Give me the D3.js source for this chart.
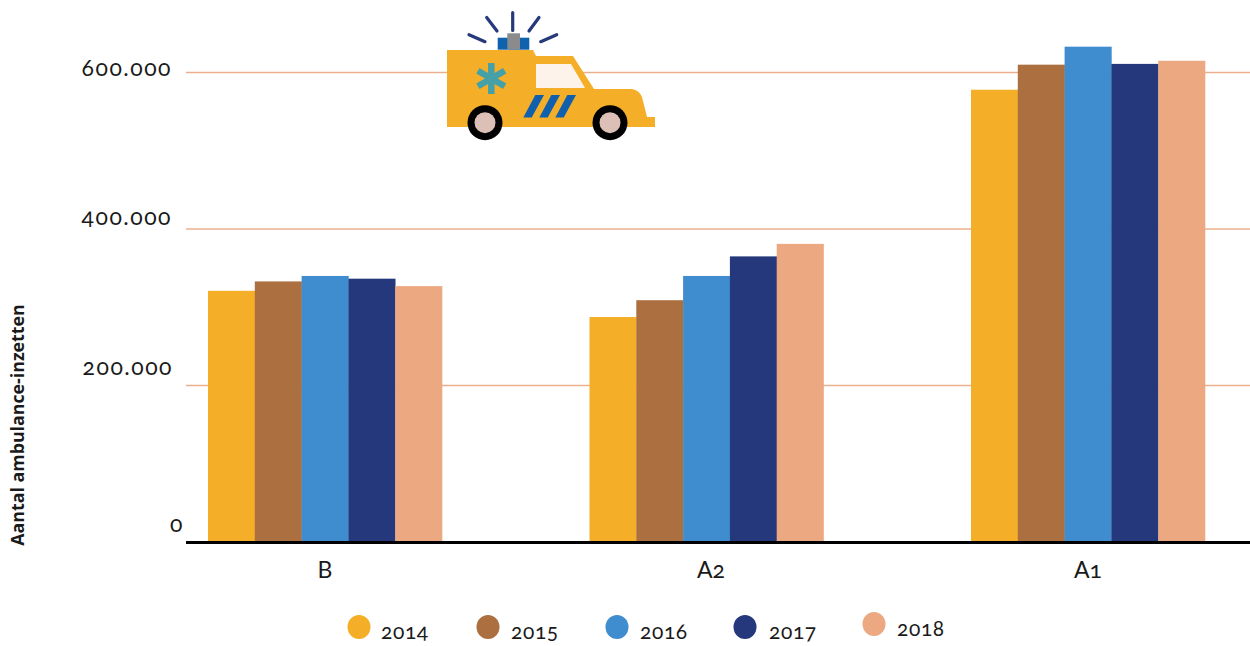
<!DOCTYPE html>
<html><head><meta charset="utf-8">
<script src="https://cdn.jsdelivr.net/npm/d3@7"></script>
<style>
html,body{margin:0;padding:0;background:#fff}
svg{display:block}
text{font-family:"Lato","Open Sans",sans-serif;fill:#1a1a1a;font-feature-settings:"onum" 1,"lnum" 0;font-variant-numeric:oldstyle-nums}
</style></head><body>
<svg id="c" width="1250" height="646"></svg>
<script>
const categories = ["B","A2","A1"];
const years = ["2014","2015","2016","2017","2018"];
const colors = ["#f5ae27","#ac6f3f","#3f8dcf","#25387b","#eca881"];
const valuesB  = [321000,333000,340000,336500,327000];
const valuesA2 = [287500,309000,340000,365000,381000];
const valuesA1 = [578000,610000,633000,611000,615000];
const series = [valuesB,valuesA2,valuesA1];
const tickValues = [0,200000,400000,600000];
const tickLabels = ["0","200.000","400.000","600.000"];
const yTitle = "Aantal ambulance-inzetten";

const svg = d3.select("#c");
const y = d3.scaleLinear().domain([0,600000]).range([542,72.5]);
const x0 = d3.scaleBand().domain(categories).range([208,1205]).paddingInner(0.3866);
const x1 = d3.scaleBand().domain(years).range([0,x0.bandwidth()]);

// gridlines
svg.append("g").selectAll("line").data(tickValues.slice(1)).join("line")
  .attr("x1",186).attr("x2",1250).attr("y1",d=>y(d)).attr("y2",d=>y(d))
  .attr("stroke","#eab08e").attr("stroke-width",1.3);

// y tick labels (hand-placed in the original, offset from their gridline)
const labelDy = [-10,-11,-4,3];
const labelX = [184,173,172,172];
svg.append("g").selectAll("text").data(tickValues).join("text")
  .attr("x",(d,i)=>labelX[i]).attr("y",(d,i)=>y(d)+labelDy[i])
  .attr("text-anchor","end").attr("font-size",23).attr("letter-spacing",1.5)
  .text((d,i)=>tickLabels[i]);

// bars
svg.append("g").selectAll("g").data(series).join("g")
  .attr("transform",(d,i)=>`translate(${x0(categories[i])},0)`)
  .selectAll("rect").data(d=>d).join("rect")
  .attr("x",(d,i)=>x1(years[i])).attr("width",x1.bandwidth()+0.3)
  .attr("y",d=>y(d)).attr("height",d=>y(0)-y(d))
  .attr("fill",(d,i)=>colors[i]);

// baseline
svg.append("line").attr("x1",186).attr("x2",1250).attr("y1",542.5).attr("y2",542.5)
  .attr("stroke","#000").attr("stroke-width",3);

// category labels
const catDx = [0,4.5,0];
svg.append("g").selectAll("text").data(categories).join("text")
  .attr("x",(d,i)=>x0(d)+x0.bandwidth()/2+catDx[i]).attr("y",578)
  .attr("text-anchor","middle").attr("font-size",23)
  .text(d=>d);

// y title
svg.append("text").attr("transform","translate(24,425) rotate(-90)")
  .attr("text-anchor","middle").attr("font-size",17.8).attr("font-weight",700)
  .style("font-family","'Open Sans',sans-serif")
  .text(yTitle);

// legend
const legendX = [359,488,617,745,874];
const legendTextX = [381,511,640,769,897];
const legendCy = [627,627,627,627,624];
const legendBase = [639,639,639,639,636];
const lg = svg.append("g").selectAll("g").data(years).join("g");
lg.append("ellipse").attr("cx",(d,i)=>legendX[i]).attr("cy",(d,i)=>legendCy[i])
  .attr("rx",11.5).attr("ry",12).attr("fill",(d,i)=>colors[i]);
lg.append("text").attr("x",(d,i)=>legendTextX[i]).attr("y",(d,i)=>legendBase[i])
  .attr("font-size",21).attr("letter-spacing",0.6).text(d=>d);

// ambulance illustration
const amb = svg.append("g");
const rays = [[512.7,12.5,512.7,30.5],[486.7,17.5,497,31],[539,17.5,529,31],[469,34.7,485,41.7],[556.7,34.7,540.7,41.7]];
amb.selectAll("line.ray").data(rays).join("line").attr("class","ray")
  .attr("x1",d=>d[0]).attr("y1",d=>d[1]).attr("x2",d=>d[2]).attr("y2",d=>d[3])
  .attr("stroke","#26397b").attr("stroke-width",3.2).attr("stroke-linecap","round");
amb.append("rect").attr("x",497.7).attr("y",37.7).attr("width",31.6).attr("height",12).attr("fill","#0f62ae");
amb.append("rect").attr("x",507.3).attr("y",33.3).attr("width",12.7).attr("height",16).attr("fill","#8b8b8b");
amb.append("path").attr("fill","#f5ae27")
  .attr("d","M447,50 L533,50 L536,56 L573,56 L594,89 L632,89 Q639,90 642,97 L647,117 L655,117 L655,127 L447,127 Z");
amb.append("path").attr("fill","#fdf3ea").attr("d","M536,64 L571,64 L585,88 L536,88 Z");
[0,16,32].forEach(o=>amb.append("path").attr("fill","#1060ae")
  .attr("d",`M${535.3+o},95 L${544+o},95 L${531.7+o},117.5 L${523.3+o},117.5 Z`));
[0,60,120].forEach(a=>amb.append("line").attr("x1",491.3).attr("y1",63).attr("x2",491.3).attr("y2",94)
  .attr("stroke","#45a0a8").attr("stroke-width",6.5).attr("transform",`rotate(${a} 491.3 78.5)`));
[485,610].forEach(cx=>{
  amb.append("circle").attr("cx",cx).attr("cy",122.7).attr("r",17.5).attr("fill","#000");
  amb.append("circle").attr("cx",cx).attr("cy",122.7).attr("r",10.5).attr("fill","#dcc0b8");
});
</script></body></html>
